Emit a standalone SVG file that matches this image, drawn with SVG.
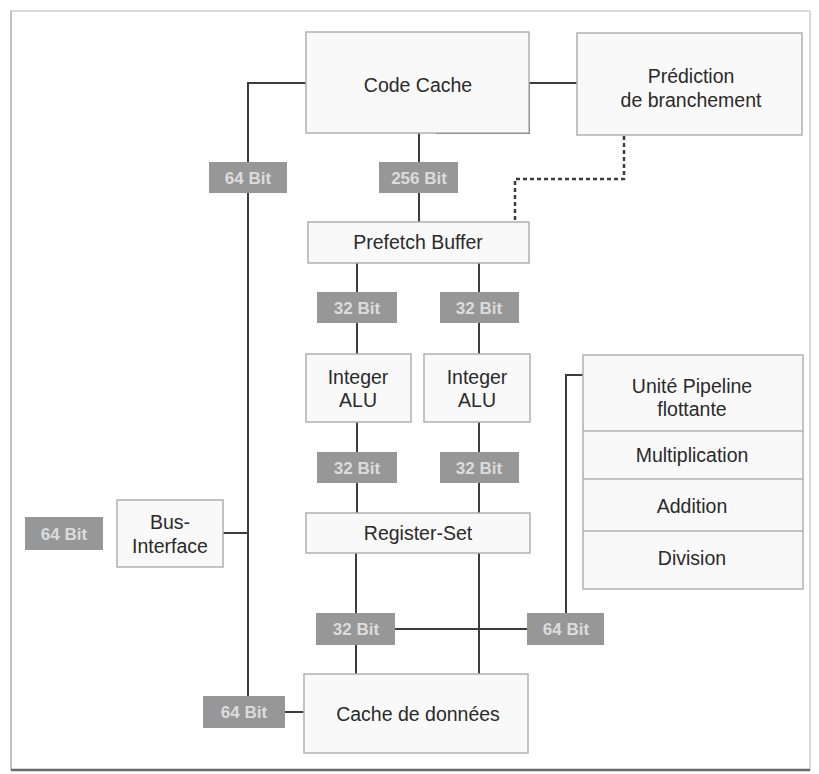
<svg xmlns="http://www.w3.org/2000/svg" width="819" height="774" viewBox="0 0 819 774">
  <style>
    .box { fill: #f9f9f9; stroke: #b0b0b0; stroke-width: 1.5; }
    .txt { font-family: "Liberation Sans", Arial, sans-serif; font-size: 19.5px; fill: #2a2a2a; text-anchor: middle; }
    .bus { fill: none; stroke: #3c3c3c; stroke-width: 2; }
    .dot { fill: none; stroke: #3c3c3c; stroke-width: 2.5; stroke-dasharray: 4 3; }
    .tag rect { fill: #979797; }
    .tag text { font-family: "Liberation Sans", Arial, sans-serif; font-size: 17px; font-weight: bold; fill: #dcdcdc; text-anchor: middle; }
  </style>

  <!-- outer frame -->
  <rect x="11" y="11" width="799" height="759" fill="#ffffff" stroke="#d0d0d0" stroke-width="1.5"/>
  <line x1="11" y1="11" x2="11" y2="770" stroke="#b8b8b8" stroke-width="1.5"/>
  <line x1="11" y1="770" x2="810" y2="770" stroke="#6a6a6a" stroke-width="2.5"/>

  <!-- connectors -->
  <g id="connectors">
    <path class="bus" d="M306 83 H248 V696"/>
    <path class="bus" d="M223 533 H248"/>
    <path class="bus" d="M285 712 H304"/>
    <path class="bus" d="M577 83 H529 V133 H436"/>
    <path class="bus" d="M419 133 V222"/>
    <path class="dot" d="M624 136 V179 H515 V222"/>
    <path class="bus" d="M357 263 V354"/>
    <path class="bus" d="M479 263 V354"/>
    <path class="bus" d="M357 422 V513"/>
    <path class="bus" d="M479 422 V513"/>
    <path class="bus" d="M356 553 V674"/>
    <path class="bus" d="M479 553 V674"/>
    <path class="bus" d="M395 629 H527"/>
    <path class="bus" d="M566 613 V375 H583"/>
  </g>

  <!-- units -->
  <g id="code-cache">
    <rect class="box" x="306" y="32" width="223" height="101"/>
    <text class="txt" x="418" y="92">Code Cache</text>
  </g>
  <g id="branch-prediction">
    <rect class="box" x="577" y="33" width="225" height="102"/>
    <text class="txt" x="691" y="83">Prédiction</text>
    <text class="txt" x="691" y="107">de branchement</text>
  </g>
  <g id="prefetch-buffer">
    <rect class="box" x="308" y="222" width="221" height="41"/>
    <text class="txt" x="418" y="249">Prefetch Buffer</text>
  </g>
  <g id="integer-alu-1">
    <rect class="box" x="306" y="354" width="105" height="68"/>
    <text class="txt" x="358" y="384">Integer</text>
    <text class="txt" x="358" y="407">ALU</text>
  </g>
  <g id="integer-alu-2">
    <rect class="box" x="424" y="354" width="106" height="68"/>
    <text class="txt" x="477" y="384">Integer</text>
    <text class="txt" x="477" y="407">ALU</text>
  </g>
  <g id="register-set">
    <rect class="box" x="306" y="513" width="224" height="40"/>
    <text class="txt" x="418" y="540">Register-Set</text>
  </g>
  <g id="data-cache">
    <rect class="box" x="304" y="674" width="224" height="79"/>
    <text class="txt" x="418" y="721">Cache de données</text>
  </g>
  <g id="bus-interface">
    <rect class="box" x="117" y="500" width="106" height="67"/>
    <text class="txt" x="170" y="529">Bus-</text>
    <text class="txt" x="170" y="553">Interface</text>
  </g>
  <g id="fpu">
    <rect class="box" x="583" y="355" width="220" height="234"/>
    <line x1="583" y1="431" x2="803" y2="431" stroke="#b0b0b0" stroke-width="1.5"/>
    <line x1="583" y1="479" x2="803" y2="479" stroke="#b0b0b0" stroke-width="1.5"/>
    <line x1="583" y1="531" x2="803" y2="531" stroke="#b0b0b0" stroke-width="1.5"/>
    <text class="txt" x="692" y="393">Unité Pipeline</text>
    <text class="txt" x="692" y="416">flottante</text>
    <text class="txt" x="692" y="462">Multiplication</text>
    <text class="txt" x="692" y="513">Addition</text>
    <text class="txt" x="692" y="565">Division</text>
  </g>

  <!-- bus width tags -->
  <g id="tag-64-top" class="tag"><rect x="209" y="162" width="78" height="31"/><text x="248" y="184">64 Bit</text></g>
  <g id="tag-256" class="tag"><rect x="379" y="162" width="79" height="31"/><text x="419" y="184">256 Bit</text></g>
  <g id="tag-32-a" class="tag"><rect x="317" y="292" width="80" height="31"/><text x="357" y="314">32 Bit</text></g>
  <g id="tag-32-b" class="tag"><rect x="440" y="292" width="79" height="31"/><text x="479" y="314">32 Bit</text></g>
  <g id="tag-32-c" class="tag"><rect x="317" y="452" width="80" height="31"/><text x="357" y="474">32 Bit</text></g>
  <g id="tag-32-d" class="tag"><rect x="440" y="452" width="79" height="31"/><text x="479" y="474">32 Bit</text></g>
  <g id="tag-32-e" class="tag"><rect x="316" y="613" width="79" height="32"/><text x="356" y="635">32 Bit</text></g>
  <g id="tag-64-fpu" class="tag"><rect x="527" y="613" width="77" height="32"/><text x="566" y="635">64 Bit</text></g>
  <g id="tag-64-ext" class="tag"><rect x="25" y="517" width="78" height="33"/><text x="64" y="540">64 Bit</text></g>
  <g id="tag-64-bottom" class="tag"><rect x="203" y="696" width="82" height="32"/><text x="244" y="718">64 Bit</text></g>
</svg>
